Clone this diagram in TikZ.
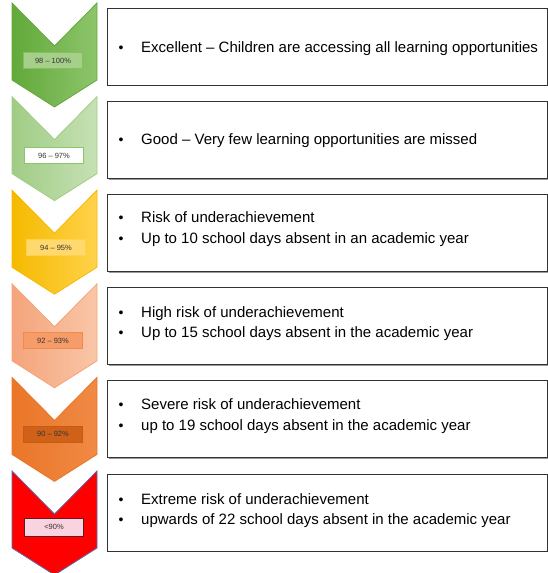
\documentclass[tikz,border=0pt]{standalone}
\usepackage{fontspec}
\setmainfont{Liberation Sans}
\usetikzlibrary{shadows}
\definecolor{c1L}{HTML}{62A93A}\definecolor{c1R}{HTML}{8DC56B}
\definecolor{c2L}{HTML}{A0CC85}\definecolor{c2R}{HTML}{C6E1B4}
\definecolor{c3L}{HTML}{F5BA00}\definecolor{c3R}{HTML}{FFD24A}
\definecolor{c4L}{HTML}{F4A47A}\definecolor{c4R}{HTML}{F9C6A8}
\definecolor{c5L}{HTML}{EA7628}\definecolor{c5R}{HTML}{F08A45}
\definecolor{c6L}{HTML}{FF0000}\definecolor{c6R}{HTML}{FF0000}
\definecolor{c6D}{HTML}{5A6CB0}
\definecolor{l1F}{HTML}{A6D08A}\definecolor{l1D}{HTML}{86BF62}
\definecolor{l2F}{HTML}{FFFFFF}\definecolor{l2D}{HTML}{8DC56B}
\definecolor{l3F}{HTML}{FFD96E}\definecolor{l3D}{HTML}{FFD24A}
\definecolor{l4F}{HTML}{F59C68}\definecolor{l4D}{HTML}{F08A50}
\definecolor{l5F}{HTML}{CF6218}\definecolor{l5D}{HTML}{C85A12}
\definecolor{l6F}{HTML}{F9D3DF}\definecolor{l6D}{HTML}{6E1420}
\newcommand{\mychevron}[4]{%
  \shade[left color=#2, right color=#3, draw=#4, line width=0.8pt]
    (12,#1) -- (54.5,{#1+43}) -- (97,#1) -- (97,{#1+77})
    -- (54.5,{#1+104}) -- (12,{#1+77}) -- cycle;}
\tikzset{
  labelbox/.style={draw, line width=0.9pt, minimum width=59pt, minimum height=16pt,
    inner sep=0pt, font=\fontsize{7.5}{8}\selectfont, text=black!80},
  infobox/.style={draw=black!80, line width=1.1pt, fill=white, anchor=north west,
    minimum width=440pt, minimum height=77pt, inner sep=0pt,
    drop shadow={shadow xshift=1.3pt, shadow yshift=-1.3pt, fill=black!40, opacity=1}},
  bul/.style={anchor=base, inner sep=0pt, font=\fontsize{14}{18}\selectfont},
  itemtext/.style={anchor=base west, inner sep=0pt, font=\fontsize{15}{18}\selectfont, text=black}
}
\begin{document}
\begin{tikzpicture}[x=1pt,y=-1pt]
\useasboundingbox (0,0) rectangle (548,573);
% chevrons
\mychevron{3}{c1L}{c1R}{c1L}
\mychevron{96.6}{c2L}{c2R}{c2L}
\mychevron{190.2}{c3L}{c3R}{c3L}
\mychevron{283.8}{c4L}{c4R}{c4L}
\mychevron{377.4}{c5L}{c5R}{c5L}
\mychevron{471}{c6L}{c6R}{c6D}
% labels
\node[labelbox, fill=l1F, draw=l1D] (lab1) at (53,60.5) {98 – 100\%};
\node[labelbox, fill=l2F, draw=l2D] (lab2) at (54,155.5) {96 – 97\%};
\node[labelbox, fill=l3F, draw=l3D] (lab3) at (56,247.5) {94 – 95\%};
\node[labelbox, fill=l4F, draw=l4D] (lab4) at (53,340.5) {92 – 93\%};
\node[labelbox, fill=l5F, draw=l5D] (lab5) at (53,434) {90 – 92\%};
\node[labelbox, fill=l6F, draw=l6D, minimum height=18pt] (lab6) at (54,527) {<90\%};
% boxes
\node[infobox] (box1) at (107,7.5) {};
\node[infobox] (box2) at (107,100.7) {};
\node[infobox] (box3) at (107,193.9) {};
\node[infobox] (box4) at (107,287.1) {};
\node[infobox] (box5) at (107,380.3) {};
\node[infobox] (box6) at (107,473.5) {};
% texts
\node[bul] (b1) at (121,52) {•};
\node[itemtext] (t1) at (141,52) {Excellent – Children are accessing all learning opportunities};
\node[bul] (b2) at (121,144.2) {•};
\node[itemtext] (t2) at (141,144.2) {Good – Very few learning opportunities are missed};
\node[bul] (b3a) at (121,222) {•};
\node[itemtext] (t3a) at (141,222) {Risk of underachievement};
\node[bul] (b3b) at (121,243.5) {•};
\node[itemtext] (t3b) at (141,243.5) {Up to 10 school days absent in an academic year};
\node[bul] (b4a) at (121,317.6) {•};
\node[itemtext] (t4a) at (141,317.6) {High risk of underachievement};
\node[bul] (b4b) at (121,337.6) {•};
\node[itemtext] (t4b) at (141,337.6) {Up to 15 school days absent in the academic year};
\node[bul] (b5a) at (121,409.8) {•};
\node[itemtext] (t5a) at (141,409.8) {Severe risk of underachievement};
\node[bul] (b5b) at (121,430) {•};
\node[itemtext] (t5b) at (141,430) {up to 19 school days absent in the academic year};
\node[bul] (b6a) at (121,504) {•};
\node[itemtext] (t6a) at (141,504) {Extreme risk of underachievement};
\node[bul] (b6b) at (121,524) {•};
\node[itemtext] (t6b) at (141,524) {upwards of 22 school days absent in the academic year};
\end{tikzpicture}
\end{document}
